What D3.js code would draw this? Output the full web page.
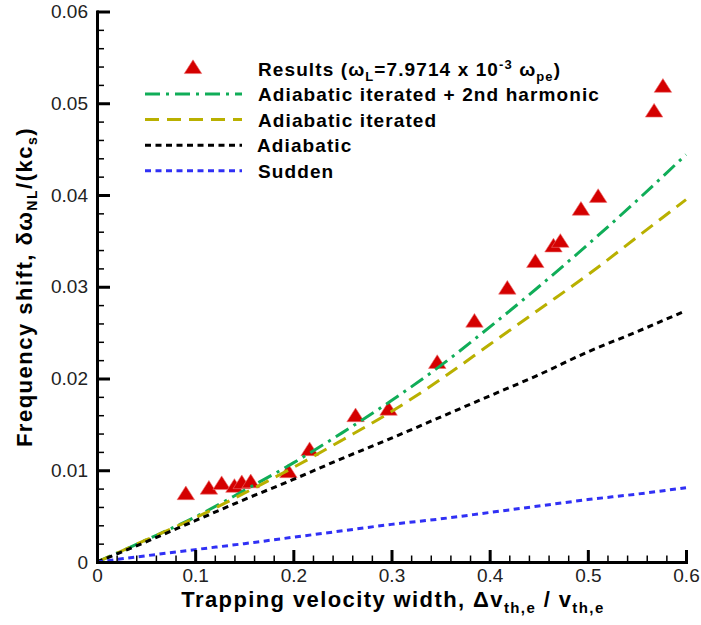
<!DOCTYPE html>
<html>
<head>
<meta charset="UTF-8">
<title>Frequency shift</title>
<style>
html, body {
    margin: 0;
    padding: 0;
    background-color: #fff;
}
svg text {
    font-family: "Liberation Sans", Arial, sans-serif;
}
.tick text {
    font-size: 19px;
    fill: #222;
}
.bold {
    font-weight: bold;
}
</style>
</head>
<body>
<div class="chart"></div>
<script src="https://cdn.jsdelivr.net/npm/d3@7/dist/d3.min.js"></script>
<script>
// simulation results (triangles)
let resultX = [0.0905, 0.114, 0.127, 0.140, 0.1475, 0.1566, 0.195, 0.2166, 0.2634, 0.297,
    0.3466, 0.3845, 0.418, 0.4465, 0.465, 0.472, 0.493, 0.5105, 0.5675, 0.5765];
let resultY = [0.0074, 0.0080, 0.0085, 0.0082, 0.0086, 0.0087, 0.0098, 0.0122, 0.0159, 0.0166,
    0.0217, 0.0262, 0.0298, 0.0327, 0.0344, 0.0349, 0.0384, 0.0398, 0.0491, 0.0518];

// theory curves, read at these widths
let curveX = [0, 0.05, 0.1, 0.15, 0.2, 0.25, 0.3, 0.35, 0.4, 0.45, 0.5, 0.55, 0.6];
let harmonicY = [0, 0.0024, 0.0049, 0.0078, 0.0108, 0.0141, 0.0176, 0.0214, 0.0256, 0.0300, 0.0346, 0.0394, 0.0444];
let iteratedY = [0, 0.0024, 0.0048, 0.0075, 0.0103, 0.0133, 0.0164, 0.0199, 0.0237, 0.0275, 0.0313, 0.0354, 0.0395];
let adiabaticY = [0, 0.0022, 0.0045, 0.0068, 0.0090, 0.0113, 0.0135, 0.0158, 0.0181, 0.0204, 0.0229, 0.0251, 0.0274];
let suddenY = [0, 0.00068, 0.00135, 0.0020, 0.0027, 0.0034, 0.0041, 0.0047, 0.0054, 0.0061, 0.0068, 0.0074, 0.0081];

let xTicks = [0, 0.1, 0.2, 0.3, 0.4, 0.5, 0.6];
let xTickLabels = ['0', '0.1', '0.2', '0.3', '0.4', '0.5', '0.6'];
let yTicks = [0, 0.01, 0.02, 0.03, 0.04, 0.05, 0.06];
let yTickLabels = ['0', '0.01', '0.02', '0.03', '0.04', '0.05', '0.06'];

let width = 701, height = 625;

let svg = d3.select('.chart').append('svg')
    .attr('width', width)
    .attr('height', height);

let xScale = d3.scaleLinear().domain([0, 0.6]).range([97, 686]);
let yScale = d3.scaleLinear().domain([0, 0.06]).range([562, 11.5]);

// series styles
let series = [
    {name: 'harmonic', y: harmonicY, color: '#10ad58', dash: '15,6,3,6'},
    {name: 'iterated', y: iteratedY, color: '#b9b000', dash: '14,8'},
    {name: 'adiabatic', y: adiabaticY, color: '#000', dash: '6,4.5'},
    {name: 'sudden', y: suddenY, color: '#3030f5', dash: '6,4.5'}
];

let triangle = d3.symbol().type(d3.symbolTriangle).size(120);

// result triangles first, lines are drawn on top of them
svg.append('g')
    .selectAll('path')
    .data(resultX.map((x, i) => [x, resultY[i]]))
    .enter().append('path')
    .attr('d', triangle)
    .attr('transform', (d) => `translate(${xScale(d[0])},${yScale(d[1]) + 1}) scale(1.05,0.95)`)
    .attr('fill', '#d40000')
    .attr('stroke', '#ec7070')
    .attr('stroke-width', 0.6);

let line = d3.line()
    .x((d) => xScale(d[0]))
    .y((d) => yScale(d[1]))
    .curve(d3.curveMonotoneX);

series.forEach((s) => {
    svg.append('path')
        .attr('d', line(curveX.map((x, i) => [x, s.y[i]])))
        .attr('fill', 'none')
        .attr('stroke', s.color)
        .attr('stroke-width', 3)
        .attr('stroke-dasharray', s.dash);
});

// axes, ticks inside
let xMinor = d3.range(0, 0.6001, 0.02).filter((v) => Math.abs(v * 10 - Math.round(v * 10)) > 1e-6);
let yMinor = d3.range(0, 0.06001, 0.002).filter((v) => Math.abs(v * 100 - Math.round(v * 100)) > 1e-6);

let xAxis = svg.append('g')
    .attr('transform', `translate(0,${yScale(0)})`)
    .call(d3.axisBottom(xScale)
        .tickValues(xTicks)
        .tickFormat((d, i) => xTickLabels[i])
        .tickSizeInner(-12)
        .tickSizeOuter(0)
        .tickPadding(10));

svg.append('g')
    .attr('transform', `translate(0,${yScale(0)})`)
    .call(d3.axisBottom(xScale).tickValues(xMinor).tickFormat('').tickSizeInner(-6.5).tickSizeOuter(0))
    .call((g) => g.select('.domain').remove())
    .selectAll('line').attr('stroke-width', 1.5);

let yAxis = svg.append('g')
    .attr('transform', `translate(${xScale(0)},0)`)
    .call(d3.axisLeft(yScale)
        .tickValues(yTicks)
        .tickFormat((d, i) => yTickLabels[i])
        .tickSizeInner(-13)
        .tickSizeOuter(0)
        .tickPadding(9));

svg.append('g')
    .attr('transform', `translate(${xScale(0)},0)`)
    .call(d3.axisLeft(yScale).tickValues(yMinor).tickFormat('').tickSizeInner(-7).tickSizeOuter(0))
    .call((g) => g.select('.domain').remove())
    .selectAll('line').attr('stroke-width', 1.5);

[xAxis, yAxis].forEach((g) => {
    g.select('.domain').attr('stroke-width', 3).attr('stroke-linecap', 'square');
    g.selectAll('.tick line').attr('stroke-width', 3);
    g.selectAll('.tick text').attr('fill', '#222');
});
xAxis.selectAll('.tick text').attr('dy', '0.55em');

// axis titles
let xTitle = svg.append('text')
    .attr('class', 'bold')
    .attr('x', 393)
    .attr('y', 607)
    .attr('text-anchor', 'middle')
    .attr('font-size', 22)
    .attr('letter-spacing', 1.4);
xTitle.append('tspan').text('Trapping velocity width, \u0394v');
xTitle.append('tspan').attr('font-size', 15).attr('dy', 6).text('th,e');
xTitle.append('tspan').attr('dy', -6).text(' / v');
xTitle.append('tspan').attr('font-size', 15).attr('dy', 6).text('th,e');

let yTitle = svg.append('text')
    .attr('class', 'bold')
    .attr('transform', 'translate(32,287) rotate(-90)')
    .attr('text-anchor', 'middle')
    .attr('font-size', 22)
    .attr('letter-spacing', 1.5);
yTitle.append('tspan').text('Frequency shift, \u03b4\u03c9');
yTitle.append('tspan').attr('font-size', 14).attr('dy', 5).text('NL');
yTitle.append('tspan').attr('dy', -5).text('/(kc');
yTitle.append('tspan').attr('font-size', 14).attr('dy', 5).text('s');
yTitle.append('tspan').attr('dy', -5).text(')');

// legend
let legend = svg.append('g').attr('class', 'legend');

legend.append('path')
    .attr('d', triangle)
    .attr('transform', 'translate(193,69) scale(1.05,0.95)')
    .attr('fill', '#d40000')
    .attr('stroke', '#ec7070')
    .attr('stroke-width', 0.6);

let resultLabel = legend.append('text')
    .attr('class', 'bold')
    .attr('x', 258)
    .attr('y', 76)
    .attr('font-size', 19)
    .attr('letter-spacing', 1.1);
resultLabel.append('tspan').text('Results (\u03c9');
resultLabel.append('tspan').attr('font-size', 13).attr('dy', 5).text('L');
resultLabel.append('tspan').attr('dy', -5).text('=7.9714 x 10');
resultLabel.append('tspan').attr('font-size', 13).attr('dy', -7).text('-3');
resultLabel.append('tspan').attr('dy', 7).text(' \u03c9');
resultLabel.append('tspan').attr('font-size', 13).attr('dy', 5).text('pe');
resultLabel.append('tspan').attr('dy', -5).text(')');

let legendNames = ['Adiabatic iterated + 2nd harmonic', 'Adiabatic iterated', 'Adiabatic', 'Sudden'];

series.forEach((s, i) => {
    let base = 101 + i * 25.6;
    legend.append('line')
        .attr('x1', 145)
        .attr('x2', 242)
        .attr('y1', base - 7)
        .attr('y2', base - 7)
        .attr('stroke', s.color)
        .attr('stroke-width', 3)
        .attr('stroke-dasharray', s.dash);
    legend.append('text')
        .attr('class', 'bold')
        .attr('x', i === 2 ? 257 : 258)
        .attr('y', base)
        .attr('font-size', 19)
        .attr('letter-spacing', 1.1)
        .text(legendNames[i]);
});
</script>
</body>
</html>
